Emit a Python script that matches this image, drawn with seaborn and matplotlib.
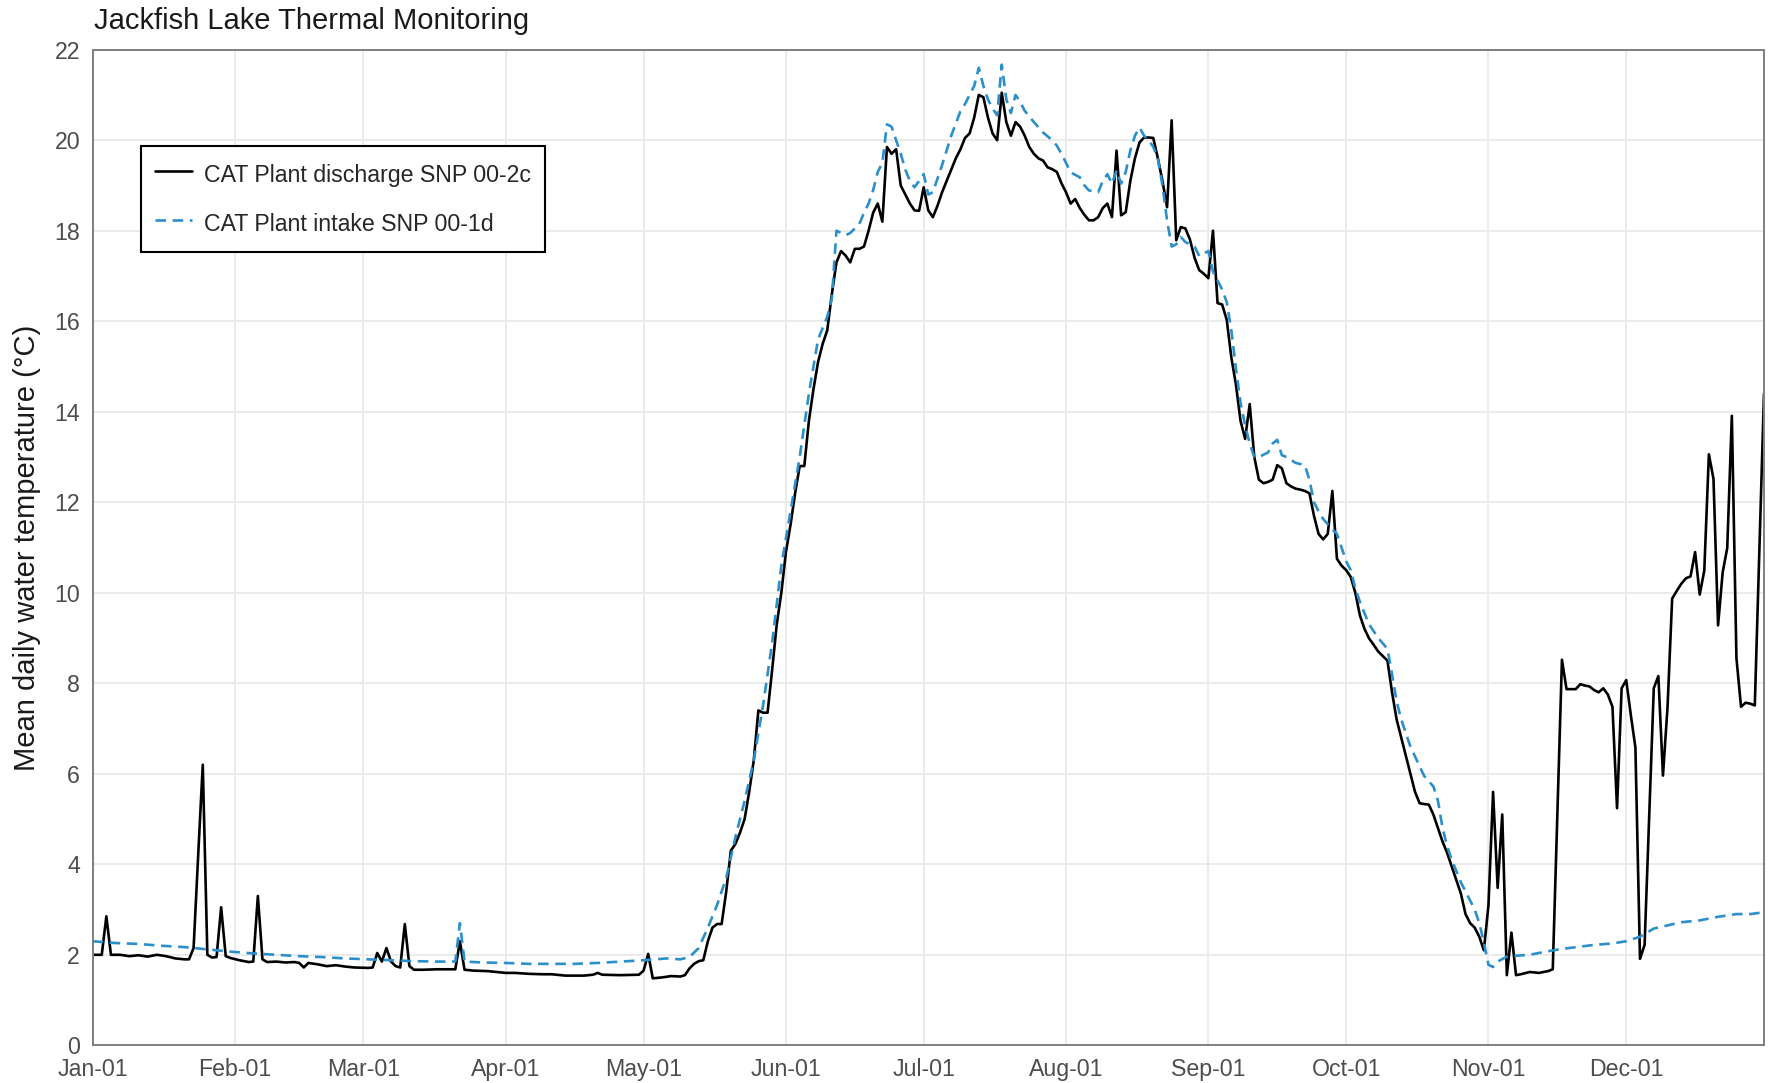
import pandas as pd
import matplotlib.pyplot as plt
import matplotlib.dates as mdates
import seaborn as sns

# Day offset from Jan-01 and mean daily water temperature (deg C)
discharge_day = [0, 2, 3, 4, 6, 8, 10, 12, 14, 16, 18, 20, 21, 22, 23, 24, 25, 26, 27, 28,
                 29, 30, 32, 34, 35, 36, 37, 38, 40, 42, 44, 45, 46, 47, 49, 51, 53, 55, 57, 60,
                 61, 62, 63, 64, 65, 66, 67, 68, 69, 70, 72, 75, 79, 80, 81, 83, 86, 88, 90, 92,
                 95, 98, 100, 103, 107, 109, 110, 111, 115, 119, 120, 121, 122, 124, 126, 128, 129, 130, 131, 132,
                 133, 134, 135, 136, 137, 138, 139, 140, 141, 142, 143, 144, 145, 146, 147, 148, 149, 150, 151, 152,
                 153, 154, 155, 156, 157, 158, 159, 160, 161, 162, 163, 164, 165, 166, 167, 168, 169, 170, 171, 172,
                 173, 174, 175, 176, 177, 178, 179, 180, 181, 182, 183, 184, 185, 186, 187, 188, 189, 190, 191, 192,
                 193, 194, 195, 196, 197, 198, 199, 200, 201, 202, 203, 204, 205, 206, 207, 208, 209, 210, 211, 212,
                 213, 214, 215, 216, 217, 218, 219, 220, 221, 222, 223, 224, 225, 226, 227, 228, 229, 230, 231, 232,
                 233, 234, 235, 236, 237, 238, 239, 240, 241, 242, 243, 244, 245, 246, 247, 248, 249, 250, 251, 252,
                 253, 254, 255, 256, 257, 258, 259, 260, 261, 262, 263, 264, 265, 266, 267, 268, 269, 270, 271, 272,
                 273, 274, 275, 276, 277, 278, 279, 280, 281, 282, 283, 284, 285, 286, 287, 288, 289, 290, 291, 292,
                 293, 294, 295, 296, 297, 298, 299, 300, 301, 302, 303, 304, 305, 306, 307, 308, 309, 310, 311, 313,
                 315, 317, 318, 320, 321, 323, 324, 325, 326, 327, 328, 329, 330, 331, 332, 333, 334, 335, 336, 337,
                 338, 340, 341, 342, 343, 344, 345, 346, 347, 348, 349, 350, 351, 352, 353, 354, 355, 356, 357, 358,
                 359, 360, 361, 362, 364]
discharge_temp = [2.0, 2.0, 2.85, 2.0, 2.0, 1.97, 1.99, 1.96, 2.0, 1.97, 1.92, 1.9, 1.9, 2.15, 4.2, 6.2, 2.0, 1.94, 1.95, 3.05,
                  1.97, 1.93, 1.88, 1.84, 1.85, 3.3, 1.9, 1.84, 1.85, 1.83, 1.84, 1.82, 1.72, 1.82, 1.79, 1.75, 1.77, 1.74, 1.72, 1.71,
                  1.72, 2.04, 1.85, 2.15, 1.85, 1.75, 1.72, 2.68, 1.75, 1.67, 1.67, 1.68, 1.68, 2.3, 1.67, 1.65, 1.64, 1.62, 1.6, 1.6,
                  1.58, 1.57, 1.57, 1.54, 1.54, 1.56, 1.6, 1.56, 1.55, 1.56, 1.65, 2.02, 1.48, 1.5, 1.53, 1.52, 1.55, 1.7, 1.8, 1.86,
                  1.88, 2.3, 2.6, 2.68, 2.68, 3.4, 4.3, 4.45, 4.7, 5.0, 5.6, 6.3, 7.4, 7.35, 7.35, 8.3, 9.3, 10.0, 10.9, 11.5,
                  12.2, 12.8, 12.8, 13.8, 14.5, 15.1, 15.5, 15.8, 16.6, 17.3, 17.55, 17.45, 17.3, 17.6, 17.6, 17.65, 18.0, 18.4, 18.6, 18.2,
                  19.85, 19.7, 19.8, 19.0, 18.8, 18.6, 18.45, 18.44, 18.96, 18.45, 18.3, 18.55, 18.85, 19.1, 19.35, 19.6, 19.8, 20.05, 20.15, 20.5,
                  21.0, 20.95, 20.5, 20.15, 20.0, 21.05, 20.4, 20.1, 20.4, 20.3, 20.1, 19.85, 19.7, 19.6, 19.55, 19.4, 19.36, 19.3, 19.05, 18.85,
                  18.6, 18.7, 18.5, 18.35, 18.23, 18.23, 18.3, 18.5, 18.6, 18.3, 19.77, 18.34, 18.41, 19.1, 19.6, 19.95, 20.06, 20.06, 20.05, 19.6,
                  19.1, 18.52, 20.44, 17.79, 18.08, 18.05, 17.8, 17.4, 17.13, 17.05, 16.95, 18.0, 16.4, 16.37, 16.03, 15.2, 14.6, 13.8, 13.4, 14.17,
                  13.0, 12.5, 12.42, 12.45, 12.5, 12.82, 12.75, 12.42, 12.35, 12.3, 12.28, 12.25, 12.2, 11.7, 11.3, 11.18, 11.3, 12.25, 10.75, 10.6,
                  10.5, 10.35, 10.0, 9.5, 9.2, 8.99, 8.85, 8.7, 8.6, 8.5, 7.8, 7.2, 6.8, 6.4, 6.0, 5.6, 5.35, 5.33, 5.32, 5.1,
                  4.8, 4.5, 4.25, 3.95, 3.65, 3.35, 2.9, 2.7, 2.6, 2.4, 2.1, 3.1, 5.6, 3.48, 5.1, 1.55, 2.49, 1.55, 1.57, 1.62,
                  1.6, 1.64, 1.68, 8.52, 7.87, 7.87, 7.98, 7.95, 7.93, 7.85, 7.8, 7.89, 7.75, 7.48, 5.24, 7.89, 8.07, 7.3, 6.58, 1.91,
                  2.22, 7.89, 8.16, 5.96, 7.48, 9.87, 10.04, 10.2, 10.32, 10.36, 10.9, 9.96, 10.49, 13.06, 12.52, 9.28, 10.45, 10.99, 13.91, 8.56,
                  7.48, 7.57, 7.55, 7.51, 14.4]

intake_day = [0, 5, 10, 15, 20, 25, 30, 35, 40, 45, 50, 55, 60, 65, 70, 75, 79, 80, 81, 85,
              90, 95, 100, 105, 110, 115, 120, 125, 128, 130, 132, 134, 136, 138, 140, 142, 144, 146, 148, 150,
              152, 154, 156, 158, 160, 161, 162, 163, 164, 165, 166, 167, 168, 169, 170, 171, 172, 173, 174, 175,
              176, 177, 178, 179, 180, 181, 182, 183, 185, 187, 189, 190, 191, 192, 193, 194, 195, 196, 197, 198,
              199, 200, 201, 202, 203, 205, 207, 209, 210, 211, 212, 213, 215, 216, 217, 219, 220, 221, 222, 223,
              224, 225, 226, 227, 228, 229, 230, 231, 232, 233, 234, 235, 236, 237, 238, 239, 240, 241, 242, 243,
              244, 245, 246, 247, 248, 249, 250, 251, 252, 253, 254, 256, 257, 258, 259, 260, 262, 264, 265, 266,
              267, 268, 270, 271, 273, 274, 275, 276, 278, 280, 282, 283, 284, 285, 287, 289, 290, 292, 293, 294,
              295, 296, 298, 300, 301, 302, 303, 304, 305, 306, 308, 310, 313, 317, 320, 324, 327, 331, 334, 337,
              340, 343, 346, 350, 354, 358, 361, 364]
intake_temp = [2.3, 2.26, 2.24, 2.2, 2.17, 2.12, 2.07, 2.03, 2.0, 1.97, 1.95, 1.92, 1.9, 1.88, 1.86, 1.85, 1.85, 2.7, 1.85, 1.83,
               1.82, 1.8, 1.8, 1.8, 1.82, 1.85, 1.88, 1.92, 1.9, 1.95, 2.15, 2.6, 3.1, 3.7, 4.6, 5.4, 6.3, 7.5, 8.9, 10.6,
               11.8, 13.0, 14.4, 15.6, 16.1, 16.5, 18.0, 17.95, 17.9, 17.95, 18.05, 18.15, 18.4, 18.6, 18.9, 19.3, 19.5, 20.35, 20.3, 20.0,
               19.7, 19.35, 19.1, 18.96, 19.1, 19.25, 18.8, 18.85, 19.45, 20.1, 20.64, 20.8, 21.0, 21.2, 21.6, 21.2, 20.9, 20.7, 20.55, 21.67,
               20.9, 20.6, 21.0, 20.85, 20.65, 20.4, 20.17, 20.0, 19.88, 19.7, 19.5, 19.29, 19.18, 19.0, 18.89, 18.85, 19.1, 19.25, 19.04, 19.33,
               19.04, 19.3, 19.77, 20.1, 20.28, 20.1, 20.0, 19.85, 19.6, 19.0, 18.23, 17.65, 17.7, 17.86, 17.75, 17.7, 17.65, 17.44, 17.5, 17.55,
               17.1, 16.9, 16.7, 16.42, 15.8, 14.96, 14.2, 13.7, 13.3, 13.0, 13.0, 13.1, 13.3, 13.38, 13.04, 13.0, 12.87, 12.82, 12.5, 12.0,
               11.8, 11.63, 11.4, 11.3, 10.7, 10.5, 10.1, 9.8, 9.3, 9.0, 8.76, 8.2, 7.6, 7.2, 6.6, 6.17, 5.95, 5.72, 5.4, 4.8,
               4.4, 4.1, 3.6, 3.2, 3.0, 2.7, 2.27, 1.78, 1.73, 1.85, 1.96, 1.98, 2.0, 2.08, 2.13, 2.18, 2.22, 2.25, 2.3, 2.4,
               2.58, 2.65, 2.72, 2.76, 2.84, 2.9, 2.9, 2.94]

series_names = ['CAT Plant discharge SNP 00-2c', 'CAT Plant intake SNP 00-1d']
series_colors = ['#000000', '#2A8FCB']
y_ticks = list(range(0, 23, 2))
year_start = pd.Timestamp('2021-01-01')


def to_frame(days, temps):
    return pd.DataFrame({'date': year_start + pd.to_timedelta(days, unit='D'), 'temp': temps})


discharge = to_frame(discharge_day, discharge_temp)
intake = to_frame(intake_day, intake_temp)

sns.set_theme(style='whitegrid')
plt.rcParams['font.family'] = ['Liberation Sans', 'DejaVu Sans']

fig = plt.figure(figsize=(17.7, 10.83), dpi=100)
ax = fig.add_axes([0.0523, 0.0348, 0.9443, 0.9193])

sns.lineplot(data=discharge, x='date', y='temp', color=series_colors[0], lw=1.9,
             estimator=None, sort=False, label=series_names[0], ax=ax)
sns.lineplot(data=intake, x='date', y='temp', color=series_colors[1], lw=1.9,
             estimator=None, sort=False, label=series_names[1], ax=ax)
ax.lines[-1].set_dashes((4, 2.5))

# Axes and ticks
ax.set_xlim(year_start, year_start + pd.Timedelta(days=364))
ax.set_ylim(0, 22)
ax.set_yticks(y_ticks)
ax.xaxis.set_major_locator(mdates.MonthLocator())
ax.xaxis.set_major_formatter(mdates.DateFormatter('%b-%d'))
ax.tick_params(axis='both', length=6, width=1.3, color='#333333', labelcolor='#4D4D4D',
               labelsize=16.7, pad=3)
ax.grid(True, color='#EBEBEB', lw=1.4)
for side in ax.spines.values():
    side.set_color('#7F7F7F')
    side.set_linewidth(1.4)

ax.set_xlabel('')
ax.set_ylabel('Mean daily water temperature (°C)', fontsize=21, color='#1A1A1A', va='center')
ax.yaxis.set_label_coords(-0.0392, 0.5)

fig.text(94 / 1770, 1 - 21 / 1083, 'Jackfish Lake Thermal Monitoring', fontsize=21,
         color='#1A1A1A', ha='left', va='center')

# Legend
handles, labels = ax.get_legend_handles_labels()
leg = ax.legend(handles, labels, loc='upper left', bbox_to_anchor=(0.029, 0.9033), borderaxespad=0,
                fontsize=16.7, frameon=True, fancybox=False, framealpha=1, edgecolor='black',
                handlelength=1.6, handletextpad=0.5, handleheight=1.6, labelspacing=0.8, borderpad=0.6)
leg.get_frame().set_linewidth(1.5)

fig.savefig('out.png', dpi=100)
